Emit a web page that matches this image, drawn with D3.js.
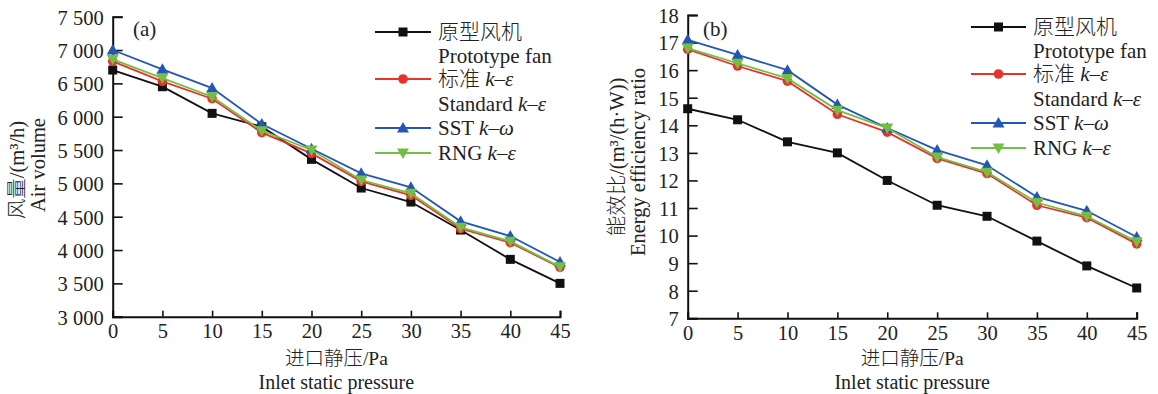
<!DOCTYPE html>
<html><head><meta charset="utf-8">
<script src="https://cdn.jsdelivr.net/npm/d3@7/dist/d3.min.js"></script>
<style>
body{margin:0;background:#fff;}
svg text{font-family:"Liberation Serif","Noto Sans CJK SC",serif;fill:#222;}
svg text.cn, svg tspan.cn{font-family:"Liberation Serif","Noto Sans CJK SC",serif;font-weight:300;}
</style></head><body>
<svg id="c" width="1158" height="394"></svg>
<script>
const pressure = [0,5,10,15,20,25,30,35,40,45];
const xTicks = [0,5,10,15,20,25,30,35,40,45];

// (a) air volume, m3/h
const airPrototype = [6700,6450,6050,5850,5360,4930,4720,4300,3860,3500];
const airStandard  = [6830,6530,6270,5760,5450,5030,4820,4320,4110,3740];
const airSST       = [7000,6710,6430,5890,5520,5150,4940,4430,4210,3820];
const airRNG       = [6860,6580,6300,5790,5500,5050,4850,4340,4130,3750];
const airTicks = [3000,3500,4000,4500,5000,5500,6000,6500,7000,7500];

// (b) energy efficiency ratio
const eerPrototype = [14.6,14.2,13.4,13.0,12.0,11.1,10.7,9.8,8.9,8.1];
const eerStandard  = [16.75,16.15,15.6,14.4,13.75,12.8,12.25,11.1,10.65,9.7];
const eerSST       = [17.1,16.55,16.0,14.75,13.9,13.1,12.55,11.4,10.9,9.95];
const eerRNG       = [16.8,16.25,15.7,14.55,13.9,12.85,12.3,11.2,10.7,9.78];
const eerTicks = [7,8,9,10,11,12,13,14,15,16,17,18];

const seriesStyle = [
  {name:"proto", color:"#111111", marker:"square"},
  {name:"std", color:"#e8332b", marker:"circle"},
  {name:"sst", color:"#2457b3", marker:"tri"},
  {name:"rng", color:"#73bf45", marker:"itri"}
];

const svg = d3.select("#c");

function drawMarker(g, type, x, y, color){
  if(type==="square"){
    g.append("rect").attr("x",x-4.5).attr("y",y-4.5).attr("width",9).attr("height",9).attr("fill",color);
  } else if(type==="circle"){
    g.append("circle").attr("cx",x).attr("cy",y).attr("r",4.8).attr("fill",color);
  } else if(type==="tri"){
    g.append("path").attr("d",`M${x},${y-6} L${x+6},${y+4.5} L${x-6},${y+4.5} Z`).attr("fill",color);
  } else {
    g.append("path").attr("d",`M${x},${y+6} L${x+6},${y-4.5} L${x-6},${y-4.5} Z`).attr("fill",color);
  }
}

function legendText(t, parts, x, y){
  const tx = t.append("text").attr("x",x).attr("y",y).attr("font-size",21);
  parts.forEach(p=>{
    const s = tx.append("tspan").text(p[0]);
    if(p[1]===true) s.attr("font-style","italic");
    if(p[1]==="cn") s.attr("class","cn");
  });
}

function panel(opt){
  const x = d3.scaleLinear().domain([0,45]).range([opt.x0,opt.x1]);
  const y = d3.scaleLinear().domain(opt.ydom).range([opt.yb,opt.yt]);
  const g = svg.append("g");

  const ax = g.append("g").attr("transform",`translate(0,${opt.yb})`)
    .call(d3.axisBottom(x).tickValues(xTicks).tickSize(-6).tickPadding(6).tickFormat(d3.format("d")));
  const ay = g.append("g").attr("transform",`translate(${opt.x0},0)`)
    .call(d3.axisLeft(y).tickValues(opt.yticks).tickSize(-10).tickPadding(9).tickFormat(opt.fmt));
  [ax,ay].forEach(a=>{
    a.select(".domain").attr("stroke","#111").attr("stroke-width",2);
    a.selectAll(".tick line").attr("stroke","#111").attr("stroke-width",1.6);
    a.selectAll(".tick text").attr("font-size",20.5).attr("fill","#222");
  });
  ax.selectAll(".tick text").attr("dy","0.75em");
  ay.selectAll(".tick text").attr("dy","0.36em");

  const line = d3.line().x((d,i)=>x(pressure[i])).y(d=>y(d));
  opt.data.forEach((arr,k)=>{
    const st = seriesStyle[k];
    g.append("path").datum(arr).attr("d",line).attr("fill","none")
      .attr("stroke",st.color).attr("stroke-width",1.8);
    const mg = g.append("g");
    arr.forEach((v,i)=>drawMarker(mg, st.marker, x(pressure[i]), y(v), st.color));
  });

  // panel label
  g.append("text").attr("x",opt.labx).attr("y",36).attr("font-size",21).text(opt.label);

  // x title
  const cx = (opt.x0+opt.x1)/2;
  g.append("text").attr("class","cn").attr("x",cx).attr("y",365).attr("text-anchor","middle").attr("font-size",19.5).text("进口静压/Pa");
  g.append("text").attr("x",cx).attr("y",389).attr("text-anchor","middle").attr("font-size",20).text("Inlet static pressure");

  // y title
  g.append("text").attr("class","cn").attr("transform",`translate(${opt.ycn},${opt.ycy}) rotate(-90)`)
    .attr("text-anchor","middle").attr("font-size",20.5).text(opt.ytitleCN);
  g.append("text").attr("transform",`translate(${opt.yen},${opt.yey}) rotate(-90)`)
    .attr("text-anchor","middle").attr("font-size",20.5).text(opt.ytitleEN);

  // legend
  const L = opt.leg;
  const rows = [L.y0, L.y0+47, L.y0+96, L.y0+121];
  const lg = g.append("g");
  seriesStyle.forEach((st,k)=>{
    lg.append("line").attr("x1",L.x1).attr("x2",L.x2).attr("y1",rows[k]).attr("y2",rows[k])
      .attr("stroke",st.color).attr("stroke-width",2);
    drawMarker(lg, st.marker, (L.x1+L.x2)/2, rows[k], st.color);
  });
  const tx = L.x2+7, dy = 7;
  legendText(lg, [["原型风机","cn"]], tx, rows[0]+dy);
  legendText(lg, [["Prototype fan",false]], tx, rows[0]+24+dy);
  legendText(lg, [["标准 ","cn"],["k",true],["–",false],["ε",true]], tx, rows[1]+dy);
  legendText(lg, [["Standard ",false],["k",true],["–",false],["ε",true]], tx, rows[1]+25+dy);
  legendText(lg, [["SST ",false],["k",true],["–",false],["ω",true]], tx, rows[2]+dy);
  legendText(lg, [["RNG ",false],["k",true],["–",false],["ε",true]], tx, rows[3]+dy);
}

const fmtA = d => d3.format(",")(d).replace(",", " ");

panel({x0:112.7, x1:560, yb:316.7, yt:16.7, ydom:[3000,7500], yticks:airTicks, fmt:fmtA,
  data:[airPrototype, airStandard, airSST, airRNG], label:"(a)", labx:133,
  ytitleCN:"风量/(m³/h)", ytitleEN:"Air volume", ycn:24, ycy:170, yen:45, yey:165,
  leg:{x1:375, x2:431, y0:32}});

panel({x0:687.7, x1:1136.7, yb:318.3, yt:15, ydom:[7,18], yticks:eerTicks, fmt:d3.format("d"),
  data:[eerPrototype, eerStandard, eerSST, eerRNG], label:"(b)", labx:703,
  ytitleCN:"能效比/(m³/(h·W))", ytitleEN:"Energy efficiency ratio", ycn:624, ycy:157, yen:645, yey:162,
  leg:{x1:971, x2:1026, y0:27}});
</script>
</body></html>
